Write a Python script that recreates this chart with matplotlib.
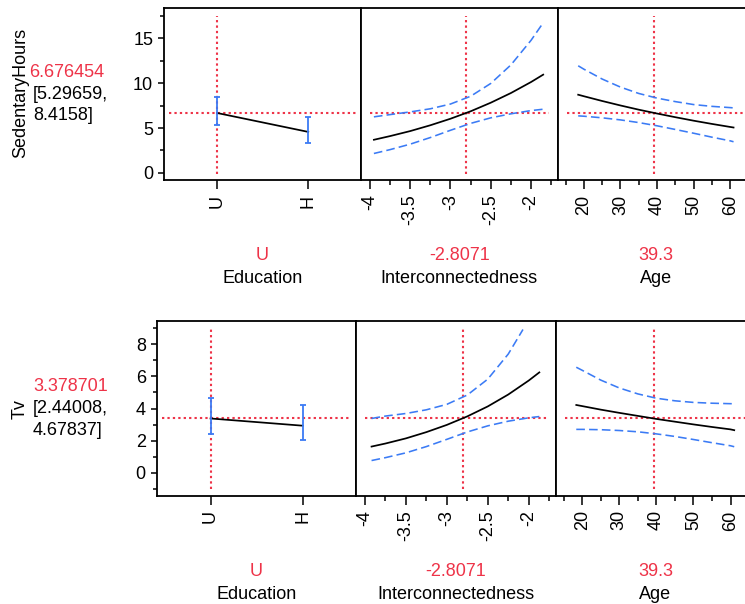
import matplotlib
matplotlib.use("Agg")
import matplotlib.pyplot as plt
from matplotlib.ticker import FixedLocator, MultipleLocator

plt.rcParams['font.family'] = ['Liberation Sans', 'DejaVu Sans']
plt.rcParams['axes.unicode_minus'] = False

# ---------------- data ----------------
edu_levels = ['U', 'H']
sed_edu_mean = [6.676454, 4.57]
sed_edu_lo = [5.29659, 3.32]
sed_edu_hi = [8.4158, 6.25]
tv_edu_mean = [3.378701, 2.93]
tv_edu_lo = [2.44008, 2.04]
tv_edu_hi = [4.67837, 4.24]

sed_inter_x = [-3.95, -3.75, -3.5, -3.25, -3.0, -2.75, -2.5, -2.25, -2.0, -1.85]
sed_inter_mean = [3.69, 4.10, 4.66, 5.31, 6.04, 6.87, 7.83, 8.91, 10.14, 10.96]
sed_inter_lo = [2.16, 2.59, 3.20, 3.94, 4.75, 5.52, 6.14, 6.59, 6.95, 7.10]
sed_inter_hi = [6.25, 6.50, 6.80, 7.15, 7.68, 8.55, 9.98, 12.05, 14.80, 16.75]

tv_inter_x = [-3.92, -3.75, -3.5, -3.25, -3.0, -2.75, -2.5, -2.25, -2.0, -1.87]
tv_inter_mean = [1.63, 1.82, 2.14, 2.53, 2.98, 3.51, 4.13, 4.87, 5.74, 6.25]
tv_inter_lo = [0.76, 0.94, 1.24, 1.63, 2.08, 2.54, 2.92, 3.21, 3.42, 3.50]
tv_inter_hi_x = [-3.92, -3.75, -3.5, -3.25, -3.0, -2.75, -2.5, -2.25, -2.07]
tv_inter_hi = [3.38, 3.53, 3.69, 3.92, 4.26, 4.84, 5.83, 7.39, 8.92]

sed_age_x = [18.45, 20, 25, 30, 35, 40, 45, 50, 55, 60, 60.9]
sed_age_mean = [8.72, 8.55, 8.02, 7.52, 7.05, 6.62, 6.21, 5.82, 5.46, 5.12, 5.06]
sed_age_lo = [6.36, 6.32, 6.14, 5.91, 5.61, 5.25, 4.84, 4.42, 3.98, 3.57, 3.47]
sed_age_hi = [11.95, 11.57, 10.47, 9.57, 8.86, 8.34, 7.95, 7.62, 7.42, 7.28, 7.25]

tv_age_x = [18.4, 20, 25, 30, 35, 40, 45, 50, 55, 60, 61]
tv_age_mean = [4.22, 4.15, 3.93, 3.73, 3.54, 3.35, 3.18, 3.01, 2.85, 2.70, 2.65]
tv_age_lo = [2.70, 2.70, 2.68, 2.63, 2.55, 2.42, 2.26, 2.07, 1.87, 1.68, 1.62]
tv_age_hi = [6.57, 6.38, 5.77, 5.28, 4.91, 4.64, 4.48, 4.38, 4.33, 4.30, 4.30]

current_edu = 'U'
current_inter = -2.8071
current_age = 39.3
responses = ['SedentaryHours', 'Tv']
pred_values = ['6.676454', '3.378701']
pred_ci_lo = ['5.29659', '2.44008']
pred_ci_hi = ['8.4158', '4.67837']
pred_num = [6.676454, 3.378701]
factor_names = ['Education', 'Interconnectedness', 'Age']
factor_current_text = ['U', '-2.8071', '39.3']

inter_ticks = [-4, -3.5, -3, -2.5, -2]
inter_ticklabels = ['-4', '-3.5', '-3', '-2.5', '-2']
age_ticks = [20, 30, 40, 50, 60]

# ---------------- styling ----------------
W, H = 745, 604
RED = '#EE3348'
BLUE = '#3B7BF5'
FS = 13

fig = plt.figure(figsize=(W / 100, H / 100), dpi=100)


def fx(x):
    return x / W


def fy(y):
    return 1 - y / H


def make_ax(x0, x1, ytop, ybot):
    return fig.add_axes([fx(x0), fy(ybot), fx(x1) - fx(x0), (ybot - ytop) / H])


rows = [
    dict(ytop=8, ybot=180, xs=[164, 361, 557.7, 754.4], ylim=(-0.8, 18.4),
         yticks=[0, 5, 10, 15], yminor=2.5,
         edu=(sed_edu_mean, sed_edu_lo, sed_edu_hi),
         inter=(sed_inter_x, sed_inter_mean, sed_inter_lo, sed_inter_x, sed_inter_hi),
         age=(sed_age_x, sed_age_mean, sed_age_lo, sed_age_hi),
         resp_y=93, val_y=72.8, lo_y=94.5, hi_y=115.8, val_x=29.5,
         cur_base=259.5, name_base=283),
    dict(ytop=321, ybot=495.7, xs=[156.7, 356, 555.7, 755], ylim=(-1.43, 9.45),
         yticks=[0, 2, 4, 6, 8], yminor=1,
         edu=(tv_edu_mean, tv_edu_lo, tv_edu_hi),
         inter=(tv_inter_x, tv_inter_mean, tv_inter_lo, tv_inter_hi_x, tv_inter_hi),
         age=(tv_age_x, tv_age_mean, tv_age_lo, tv_age_hi),
         resp_y=409.5, val_y=386.3, lo_y=408.5, hi_y=430.5, val_x=33,
         cur_base=576.3, name_base=598.7),
]

dash_blue = dict(color=BLUE, lw=1.15, linestyle=(0, (5.4, 2.6)))
dot_red = dict(color=RED, lw=1.5, linestyle=(0, (1.1, 1.5)))

for r, row in enumerate(rows):
    xs = row['xs']
    axes = [make_ax(xs[i], xs[i + 1], row['ytop'], row['ybot']) for i in range(3)]
    for ax in axes:
        ax.set_ylim(*row['ylim'])
        for s in ax.spines.values():
            s.set_linewidth(1.3)
            s.set_color('black')
        ax.tick_params(axis='x', which='major', direction='out', length=6.5, width=1.1,
                       labelsize=FS, labelrotation=90, pad=4)
        ax.tick_params(axis='x', which='minor', direction='out', length=3.6, width=1.1)
        ax.set_facecolor('white')
    # y-axis only on first panel
    a0 = axes[0]
    a0.yaxis.set_major_locator(FixedLocator(row['yticks']))
    a0.set_yticklabels([str(v) for v in row['yticks']])
    a0.yaxis.set_minor_locator(MultipleLocator(row['yminor']))
    a0.tick_params(axis='y', which='major', direction='out', length=4.3, width=1.1,
                   labelsize=FS, pad=3.5)
    a0.tick_params(axis='y', which='minor', direction='out', length=3.0, width=1.1)
    for ax in axes[1:]:
        ax.tick_params(axis='y', which='both', left=False, labelleft=False)

    pv = pred_num[r]

    # Education panel
    ax = axes[0]
    ax.set_xlim(-0.585, 1.58)
    xpos = list(range(len(edu_levels)))
    m, lo, hi = row['edu']
    ax.plot(xpos, m, color='black', lw=1.25, zorder=3)
    ax.errorbar(xpos, m, yerr=[[m[i] - lo[i] for i in xpos], [hi[i] - m[i] for i in xpos]],
                fmt='none', ecolor=BLUE, elinewidth=1.3, capsize=2.2, capthick=1.3, zorder=4)
    ax.set_xticks(xpos)
    ax.set_xticklabels(edu_levels)
    ax.axhline(pv, xmin=0.025, xmax=0.975, **dot_red, zorder=2)
    ax.axvline(edu_levels.index(current_edu), ymin=0.037, ymax=0.953, **dot_red, zorder=2)

    # Interconnectedness panel
    ax = axes[1]
    ax.set_xlim(-4.11, -1.67)
    ix, im, ilo, ihx, ihi = row['inter']
    ax.plot(ix, im, color='black', lw=1.25, zorder=3)
    ax.plot(ix, ilo, **dash_blue, zorder=3)
    ax.plot(ihx, ihi, **dash_blue, zorder=3)
    ax.xaxis.set_major_locator(FixedLocator(inter_ticks))
    ax.set_xticklabels(inter_ticklabels)
    ax.xaxis.set_minor_locator(MultipleLocator(0.25))
    ax.axhline(pv, xmin=0.045, xmax=0.955, **dot_red, zorder=2)
    ax.axvline(current_inter, ymin=0.037, ymax=0.953, **dot_red, zorder=2)

    # Age panel
    ax = axes[2]
    ax.set_xlim(12.85, 66.6)
    ax_, am, alo, ahi = row['age']
    ax.plot(ax_, am, color='black', lw=1.25, zorder=3)
    ax.plot(ax_, alo, **dash_blue, zorder=3)
    ax.plot(ax_, ahi, **dash_blue, zorder=3)
    ax.xaxis.set_major_locator(FixedLocator(age_ticks))
    ax.set_xticklabels([str(a) for a in age_ticks])
    ax.xaxis.set_minor_locator(MultipleLocator(5))
    ax.axhline(pv, xmin=0.045, xmax=1.0, **dot_red, zorder=2)
    ax.axvline(current_age, ymin=0.037, ymax=0.953, **dot_red, zorder=2)

    # factor labels under panels
    for i in range(3):
        cx = (xs[i] + xs[i + 1]) / 2
        fig.text(fx(cx), fy(row['cur_base']), factor_current_text[i], color=RED,
                 fontsize=FS, ha='center', va='baseline')
        fig.text(fx(cx), fy(row['name_base']), factor_names[i], color='black',
                 fontsize=FS, ha='center', va='baseline')

    # response label and prediction text
    fig.text(fx(20.5), fy(row['resp_y']), responses[r], rotation=90, fontsize=FS,
             ha='center', va='center')
    fig.text(fx(row['val_x']), fy(row['val_y']), pred_values[r], color=RED, fontsize=FS,
             ha='left', va='center')
    fig.text(fx(33), fy(row['lo_y']), '[' + pred_ci_lo[r] + ',', color='black', fontsize=FS,
             ha='left', va='center')
    fig.text(fx(33), fy(row['hi_y']), pred_ci_hi[r] + ']', color='black', fontsize=FS,
             ha='left', va='center')

fig.savefig('out.png', dpi=100, facecolor='white')
